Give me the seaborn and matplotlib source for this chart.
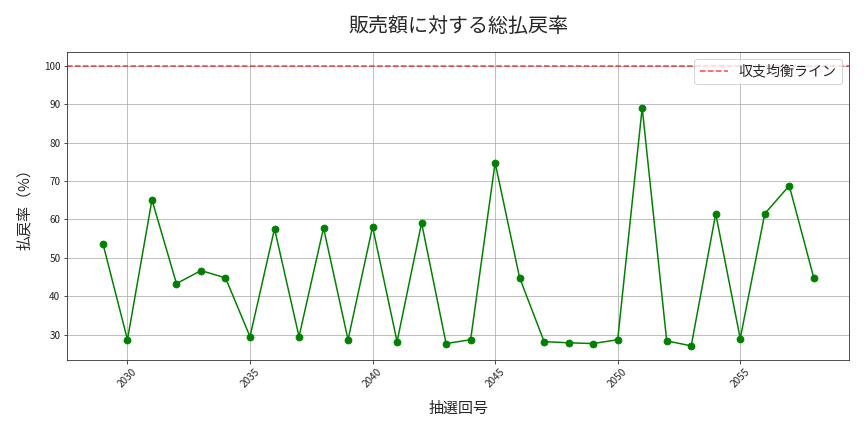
import numpy as np
import pandas as pd
import matplotlib
matplotlib.use("Agg")
import matplotlib.pyplot as plt
import seaborn as sns

draws = list(range(2029, 2059))
payout_rate = [53.7, 28.7, 65.1, 43.3, 46.7, 44.8, 29.5, 57.6, 29.5, 57.8,
               28.7, 58.1, 28.2, 59.1, 27.7, 28.7, 74.8, 44.8, 28.2, 27.9,
               27.7, 28.7, 89.1, 28.4, 27.1, 61.5, 29.0, 61.5, 68.8, 44.8]

df = pd.DataFrame({"draw": draws, "rate": payout_rate})

sns.set_style("ticks")
plt.rcParams['font.family'] = ['Noto Sans CJK JP', 'DejaVu Sans']

fig, ax = plt.subplots(figsize=(12, 6), dpi=72)
sns.lineplot(data=df, x="draw", y="rate", marker="o", color="green",
             markersize=7, markeredgecolor="green", linewidth=1.5, ax=ax)
ax.axhline(100, color="red", linestyle="--", alpha=0.75, linewidth=1.5, label="収支均衡ライン")
ax.grid(True, color="#b0b0b0", linewidth=0.8)
ax.set_title("販売額に対する総払戻率", fontsize=20, pad=20)
ax.set_xlabel("抽選回号", fontsize=15, labelpad=12)
ax.set_ylabel("払戻率（%）", fontsize=15, labelpad=12)
ax.tick_params(axis="x", labelrotation=45, labelsize=10)
ax.tick_params(axis="y", labelsize=10)
ax.legend(loc="upper right", fontsize=14)
fig.subplots_adjust(left=0.078, right=0.983, top=0.880, bottom=0.167)
plt.savefig("out.png")
